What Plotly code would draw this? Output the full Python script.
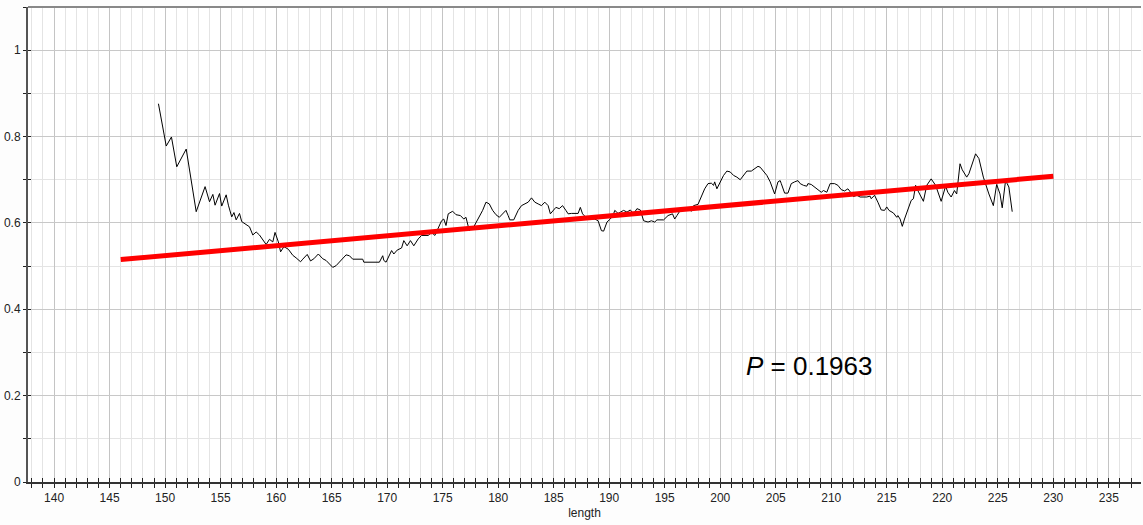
import plotly.graph_objects as go

# Sliding-window statistic along sequence length
length = [
    149.4, 150.1, 150.57, 151.05, 151.9, 152.8, 153.6, 154.0, 154.3, 154.5,
    154.9, 155.1, 155.5, 155.7, 156.0, 156.2, 156.4, 156.7, 156.9, 157.3,
    157.6, 157.9, 158.2, 158.5, 158.8, 159.1, 159.4, 159.7, 159.9, 160.2,
    160.4, 160.7, 161.1, 161.5, 161.8, 162.2, 162.4, 162.8, 163.1, 163.4,
    163.8, 164.2, 164.5, 165.1, 165.4, 165.8, 166.3, 166.6, 166.9, 167.8,
    167.9, 169.3, 169.6, 169.7, 169.9, 170.4, 170.6, 170.9, 171.3, 171.5,
    171.8, 172.1, 172.4, 172.8, 173.1, 173.7, 174.0, 174.3, 174.6, 174.9,
    175.1, 175.3, 175.5, 175.9, 176.2, 176.6, 176.9, 177.1, 177.4, 177.5,
    177.7, 178.1, 178.6, 178.9, 179.2, 179.5, 179.8, 180.1, 180.45, 180.7,
    180.9, 181.05, 181.4, 181.8, 182.1, 182.4, 182.7, 183.0, 183.3, 183.6,
    183.9, 184.2, 184.5, 184.7, 185.0, 185.2, 185.5, 185.8, 186.1, 186.3,
    186.6, 187.2, 187.4, 187.6, 187.9, 188.3, 188.7, 189.0, 189.3, 189.5,
    189.8, 190.1, 190.4, 190.5, 190.8, 191.3, 191.6, 191.9, 192.2, 192.5,
    192.8, 193.1, 193.5, 193.8, 194.1, 194.3, 194.9, 195.3, 195.7, 195.9,
    196.1, 196.4, 196.7, 197.1, 197.4, 197.6, 198.0, 198.3, 198.6, 198.9,
    199.2, 199.4, 199.5, 199.7, 200.0, 200.3, 200.6, 200.9, 201.2, 201.5,
    201.8, 202.1, 202.4, 202.8, 203.1, 203.4, 203.6, 203.9, 204.2, 204.5,
    204.8, 204.9, 205.2, 205.4, 205.5, 205.8, 206.1, 206.4, 206.7, 207.0,
    207.2, 207.5, 207.8, 207.9, 208.2, 208.5, 208.8, 209.1, 209.3, 209.6,
    209.9, 210.3, 210.6, 210.9, 211.2, 211.5, 211.8, 212.0, 212.3, 212.6,
    213.2, 213.5, 213.6, 213.9, 214.2, 214.5, 214.8, 215.0, 215.2, 215.6,
    215.9, 216.0, 216.2, 216.4, 216.6, 217.1, 217.2, 217.4, 217.6, 217.8,
    218.3, 218.6, 218.7, 219.0, 219.4, 219.6, 219.9, 220.3, 220.5, 220.8,
    221.1, 221.3, 221.6, 221.8, 222.2, 222.4, 222.7, 223.0, 223.3, 223.7,
    224.2, 224.6, 224.9, 225.2, 225.4, 225.7, 226.0, 226.3,
]
value = [
    0.876, 0.778, 0.799, 0.730, 0.771, 0.626, 0.684, 0.649, 0.666, 0.641,
    0.668, 0.639, 0.665, 0.641, 0.614, 0.624, 0.607, 0.622, 0.603, 0.595,
    0.591, 0.572, 0.579, 0.572, 0.562, 0.550, 0.562, 0.556, 0.578, 0.556,
    0.533, 0.545, 0.539, 0.525, 0.519, 0.510, 0.516, 0.527, 0.512, 0.517,
    0.528, 0.517, 0.513, 0.497, 0.501, 0.513, 0.526, 0.524, 0.516, 0.516,
    0.509, 0.509, 0.524, 0.513, 0.509, 0.536, 0.528, 0.537, 0.542, 0.559,
    0.547, 0.559, 0.547, 0.563, 0.571, 0.571, 0.578, 0.571, 0.590, 0.605,
    0.609, 0.594, 0.621, 0.627, 0.619, 0.617, 0.609, 0.613, 0.582, 0.590,
    0.586, 0.605, 0.629, 0.648, 0.644, 0.629, 0.619, 0.613, 0.621, 0.629,
    0.617, 0.607, 0.607, 0.629, 0.640, 0.644, 0.648, 0.658, 0.648, 0.644,
    0.640, 0.648, 0.640, 0.621, 0.630, 0.636, 0.633, 0.640, 0.629, 0.621,
    0.622, 0.622, 0.636, 0.621, 0.613, 0.609, 0.609, 0.605, 0.582, 0.581,
    0.602, 0.609, 0.621, 0.629, 0.622, 0.629, 0.625, 0.630, 0.621, 0.633,
    0.630, 0.605, 0.602, 0.605, 0.602, 0.607, 0.607, 0.617, 0.621, 0.609,
    0.617, 0.629, 0.635, 0.633, 0.627, 0.640, 0.643, 0.660, 0.679, 0.691,
    0.692, 0.687, 0.695, 0.679, 0.693, 0.710, 0.720, 0.718, 0.710, 0.706,
    0.700, 0.710, 0.720, 0.720, 0.726, 0.731, 0.729, 0.720, 0.710, 0.695,
    0.675, 0.667, 0.695, 0.698, 0.691, 0.669, 0.669, 0.691, 0.695, 0.698,
    0.691, 0.687, 0.685, 0.691, 0.689, 0.683, 0.675, 0.671, 0.675, 0.671,
    0.691, 0.691, 0.687, 0.677, 0.674, 0.679, 0.669, 0.661, 0.664, 0.660,
    0.660, 0.662, 0.656, 0.664, 0.648, 0.630, 0.629, 0.637, 0.629, 0.623,
    0.613, 0.617, 0.609, 0.592, 0.609, 0.648, 0.652, 0.656, 0.687, 0.675,
    0.650, 0.687, 0.691, 0.702, 0.687, 0.671, 0.650, 0.685, 0.671, 0.660,
    0.675, 0.667, 0.737, 0.723, 0.706, 0.714, 0.737, 0.760, 0.749, 0.706,
    0.667, 0.640, 0.689, 0.667, 0.635, 0.698, 0.683, 0.626,
]

# Linear trend line endpoints
fit_length = [146, 230]
fit_value = [0.515, 0.708]

annotation_text = "<i>P</i> = 0.1963"

FONT = "Liberation Sans, Arial, sans-serif"
X_RANGE = [137.65, 237.9]
Y_RANGE = [0, 1.1]

fig = go.Figure()

fig.add_trace(go.Scatter(
    x=length, y=value, mode="lines",
    line=dict(color="black", width=1),
    showlegend=False, hoverinfo="x+y",
))
fig.add_trace(go.Scatter(
    x=fit_length, y=fit_value, mode="lines",
    line=dict(color="#ff0000", width=5),
    showlegend=False, hoverinfo="x+y",
))
# Invisible trace that keeps the overlay axes (inner tick halves) alive
fig.add_trace(go.Scatter(
    x=fit_length, y=fit_value, mode="lines", xaxis="x2", yaxis="y2",
    line=dict(width=0), opacity=0, showlegend=False, hoverinfo="skip",
))

fig.add_annotation(
    x=208.0, y=0.268, text=annotation_text, showarrow=False,
    font=dict(family=FONT, size=26, color="black"),
)

fig.update_layout(
    width=1143, height=525,
    margin=dict(l=28, r=2, t=7, b=43),
    paper_bgcolor="#fdfdfd", plot_bgcolor="white",
    xaxis=dict(
        range=X_RANGE, tick0=140, dtick=5,
        ticks="outside", ticklen=4, tickcolor="#222", tickwidth=1,
        showgrid=True, gridcolor="#c4c4c4", gridwidth=1,
        minor=dict(tick0=140, dtick=1, ticks="outside", ticklen=4,
                   tickcolor="#222", showgrid=True, gridcolor="#e4e4e4"),
        showline=True, linecolor="#333", linewidth=1.5,
        zeroline=False,
        tickfont=dict(family=FONT, size=12, color="#222"),
        title=dict(text="length", font=dict(family=FONT, size=12, color="#222"),
                   standoff=4),
    ),
    yaxis=dict(
        range=Y_RANGE, tick0=0, dtick=0.2,
        ticks="outside", ticklen=3, tickcolor="#222", tickwidth=1,
        showgrid=True, gridcolor="#c8c8c8", gridwidth=1,
        minor=dict(tick0=0, dtick=0.1, ticks="outside", ticklen=3,
                   tickcolor="#222", showgrid=True, gridcolor="#e4e4e4"),
        showline=True, linecolor="#555", linewidth=2,
        zeroline=False,
        tickfont=dict(family=FONT, size=12, color="#222"),
    ),
    xaxis2=dict(
        overlaying="x", anchor="y", side="bottom", range=X_RANGE,
        tick0=140, dtick=1, ticks="inside", ticklen=4, tickcolor="#222",
        showticklabels=False, showgrid=False, zeroline=False, showline=False,
    ),
    yaxis2=dict(
        overlaying="y", anchor="x", side="left", range=Y_RANGE,
        tick0=0, dtick=0.1, ticks="inside", ticklen=3, tickcolor="#222",
        showticklabels=False, showgrid=False, zeroline=False, showline=False,
    ),
    shapes=[dict(type="line", xref="paper", yref="paper", x0=0, x1=1, y0=1, y1=1,
                 line=dict(color="#888", width=2), layer="above")],
)

fig.write_html("out.html")
